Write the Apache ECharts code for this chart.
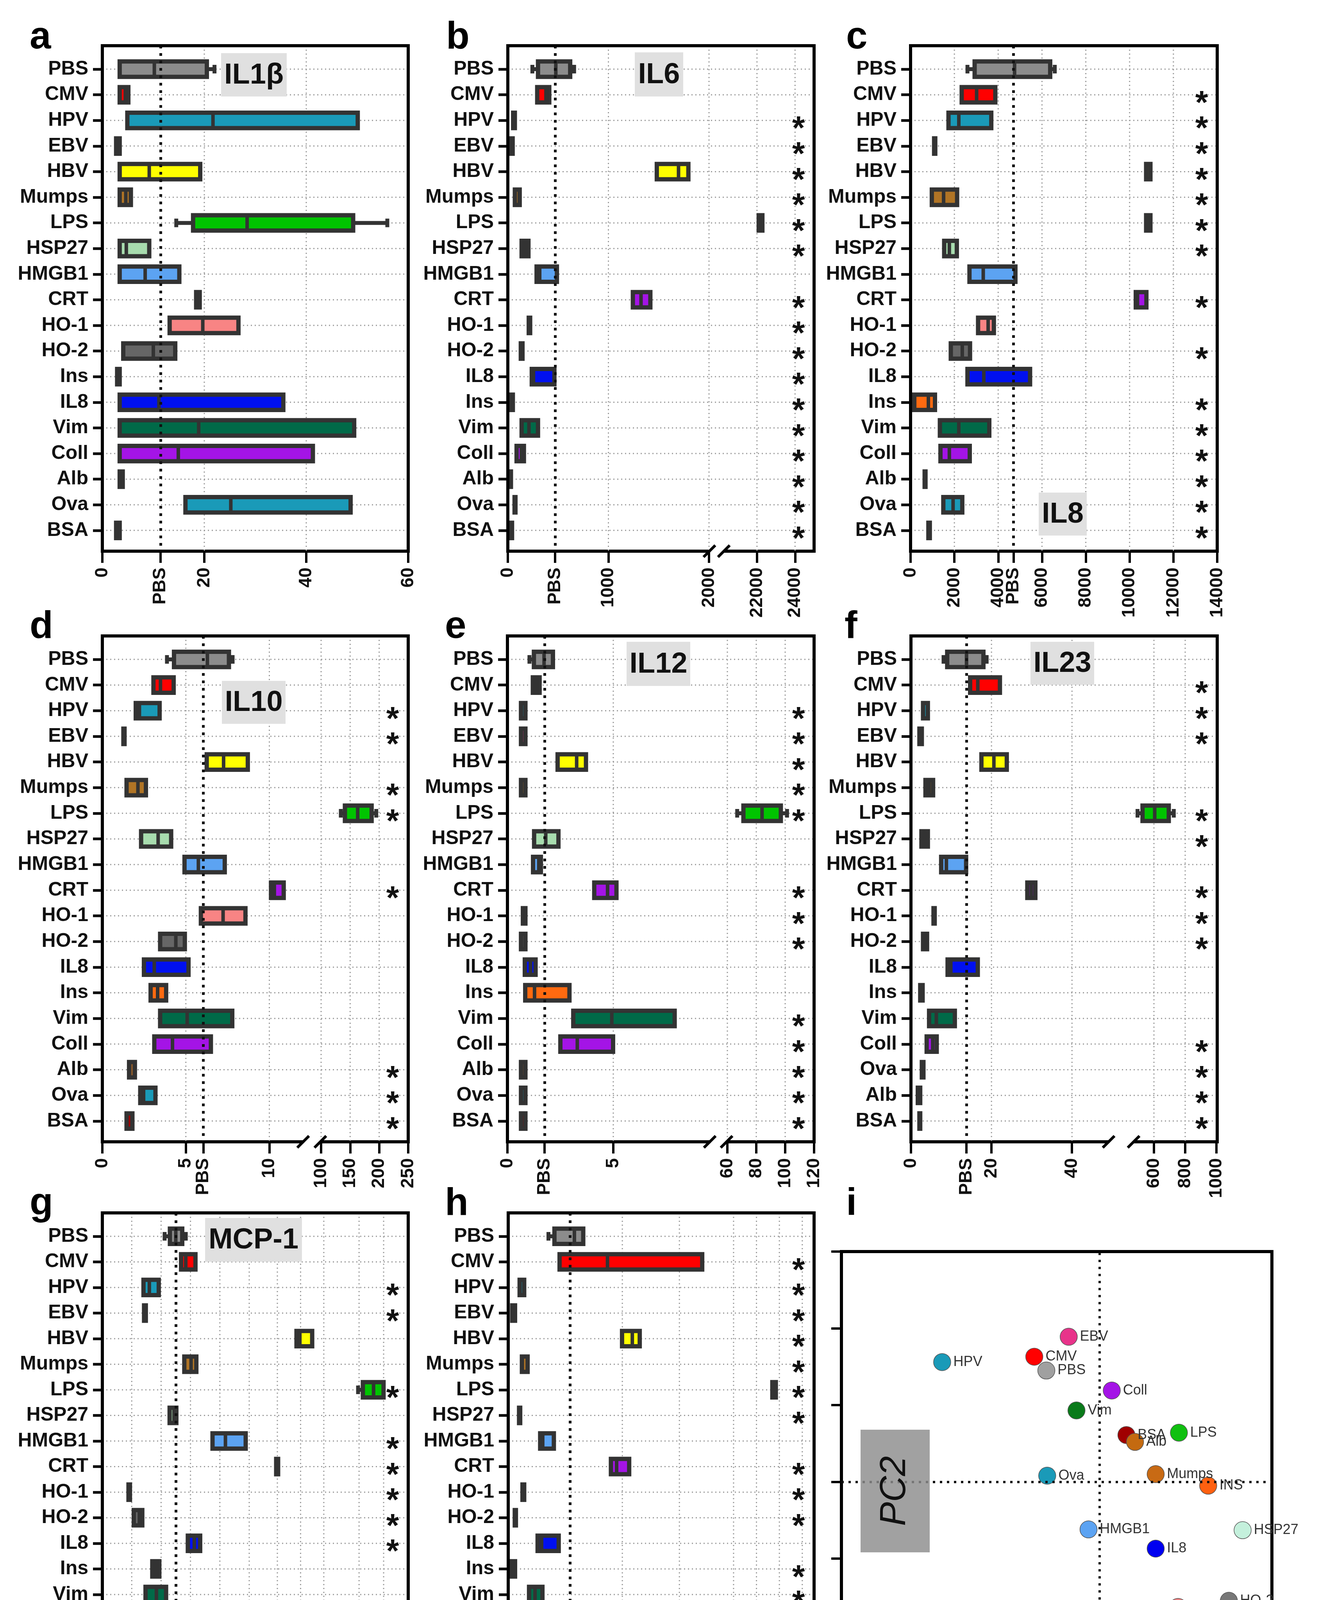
<!DOCTYPE html>
<html>
<head>
<meta charset="utf-8">
<title>Cytokine release box plots and PCA</title>
<script src="https://cdn.jsdelivr.net/npm/echarts@6.0.0/dist/echarts.min.js"></script>
<style>
html, body { margin: 0; padding: 0; background: #fff; }
#chart { width: 3374px; height: 4620px; }
</style>
</head>
<body>
<div id="chart"></div>
<script>
// categories (top to bottom)
var catsA = ['PBS', 'CMV', 'HPV', 'EBV', 'HBV', 'Mumps', 'LPS', 'HSP27', 'HMGB1', 'CRT', 'HO-1', 'HO-2', 'Ins', 'IL8', 'Vim', 'Coll', 'Alb', 'Ova', 'BSA'];
var catsB = ['PBS', 'CMV', 'HPV', 'EBV', 'HBV', 'Mumps', 'LPS', 'HSP27', 'HMGB1', 'CRT', 'HO-1', 'HO-2', 'IL8', 'Ins', 'Vim', 'Coll', 'Alb', 'Ova', 'BSA'];
var catsF = ['PBS', 'CMV', 'HPV', 'EBV', 'HBV', 'Mumps', 'LPS', 'HSP27', 'HMGB1', 'CRT', 'HO-1', 'HO-2', 'IL8', 'Ins', 'Vim', 'Coll', 'Ova', 'Alb', 'BSA'];

// boxes: [min, q1, median, q3, max]
var il1b = [[3.4, 3.4, 10.2, 20.5, 22.0], [3.4, 3.4, 4.5, 5.1, 5.1], [4.9, 4.9, 21.7, 50.1, 50.1], [2.7, 2.7, 3.0, 3.4, 3.4],
  [3.4, 3.4, 9.2, 19.2, 19.2], [3.4, 3.4, 4.6, 5.6, 5.6], [14.5, 17.8, 28.4, 49.2, 55.9], [3.4, 3.4, 4.7, 9.2, 9.2],
  [3.4, 3.4, 8.4, 15.1, 15.1], [18.4, 18.4, 18.8, 19.1, 19.1], [13.2, 13.2, 19.7, 26.7, 26.7], [4.1, 4.1, 10.0, 14.3, 14.3],
  [2.9, 2.9, 3.2, 3.4, 3.4], [3.4, 3.4, 11.1, 35.5, 35.5], [3.4, 3.4, 18.9, 49.4, 49.4], [3.4, 3.4, 14.9, 41.3, 41.3],
  [3.4, 3.4, 3.7, 4.0, 4.0], [16.3, 16.3, 25.2, 48.7, 48.7], [2.7, 2.7, 3.0, 3.4, 3.4]];
var il6 = [[244, 300, 477, 620, 659], [292, 292, 379, 412, 412], [53, 53, 61, 70, 70], [17, 17, 32, 48, 48],
  [1481, 1481, 1697, 1795, 1795], [70, 70, 94, 118, 118], [22090, 22090, 22190, 22284, 22284], [137, 137, 171, 205, 205],
  [286, 286, 317, 488, 488], [1243, 1243, 1324, 1417, 1417], [208, 208, 215, 222, 222], [129, 129, 137, 146, 146],
  [238, 238, 255, 463, 463], [17, 17, 33, 50, 50], [137, 137, 210, 300, 300], [87, 87, 135, 160, 160],
  [17, 17, 24, 31, 31], [67, 67, 71, 76, 76], [17, 17, 30, 42, 42]];
var il8 = [[2597, 2925, 4748, 6374, 6584], [2334, 2334, 3016, 3869, 3869], [1731, 1731, 2203, 3685, 3685], [1075, 1075, 1100, 1128, 1128],
  [10754, 10754, 10850, 10951, 10951], [970, 970, 1508, 2125, 2125], [10754, 10754, 10850, 10951, 10951], [1534, 1534, 1770, 2112, 2112],
  [2689, 2689, 3318, 4787, 4787], [10282, 10282, 10360, 10767, 10767], [3082, 3082, 3541, 3803, 3803], [1836, 1836, 2361, 2715, 2715],
  [2597, 2597, 3344, 5456, 5456], [170, 170, 813, 1115, 1115], [1338, 1338, 2203, 3594, 3594], [1364, 1364, 1770, 2702, 2702],
  [643, 643, 660, 682, 682], [1495, 1495, 1941, 2361, 2361], [813, 813, 845, 879, 879]];
var il10 = [[3.87, 4.29, 6.29, 7.58, 7.8], [3.06, 3.06, 3.48, 4.27, 4.27], [2.0, 2.0, 2.22, 3.43, 3.43], [1.26, 1.26, 1.3, 1.33, 1.33],
  [6.25, 6.25, 7.26, 8.71, 8.71], [1.45, 1.45, 2.13, 2.61, 2.61], [134, 141, 163, 187, 195], [2.32, 2.32, 3.34, 4.12, 4.12],
  [4.92, 4.92, 5.75, 7.33, 7.33], [10.1, 10.1, 10.3, 10.86, 10.86], [5.9, 5.9, 7.23, 8.57, 8.57], [3.46, 3.46, 4.4, 4.94, 4.94],
  [2.49, 2.49, 3.11, 5.16, 5.16], [2.89, 2.89, 3.31, 3.82, 3.82], [3.46, 3.46, 5.08, 7.78, 7.78], [3.11, 3.11, 4.2, 6.5, 6.5],
  [1.6, 1.6, 1.78, 1.95, 1.95], [2.27, 2.27, 2.47, 3.18, 3.18], [1.45, 1.45, 1.62, 1.8, 1.8]];
var il12 = [[1.04, 1.25, 1.73, 2.15, 2.15], [1.2, 1.2, 1.36, 1.52, 1.52], [0.64, 0.64, 0.75, 0.85, 0.85], [0.64, 0.64, 0.75, 0.85, 0.85],
  [2.37, 2.37, 3.27, 3.71, 3.71], [0.64, 0.64, 0.75, 0.85, 0.85], [66.8, 71.1, 84, 97, 101.3], [1.26, 1.26, 1.81, 2.41, 2.41],
  [1.21, 1.21, 1.48, 1.58, 1.58], [4.1, 4.1, 4.73, 5.15, 5.15], [0.73, 0.73, 0.79, 0.85, 0.85], [0.64, 0.64, 0.75, 0.85, 0.85],
  [0.82, 0.82, 1.09, 1.33, 1.33], [0.84, 0.84, 1.28, 2.93, 2.93], [3.11, 3.11, 4.93, 7.9, 7.9], [2.5, 2.5, 3.3, 4.99, 4.99],
  [0.64, 0.64, 0.75, 0.85, 0.85], [0.64, 0.64, 0.75, 0.85, 0.85], [0.64, 0.64, 0.75, 0.85, 0.85]];
var il23 = [[8.1, 9.0, 13.8, 18.0, 18.8], [14.7, 14.7, 16.6, 22.1, 22.1], [3.0, 3.0, 3.6, 4.2, 4.2], [2.1, 2.1, 2.4, 2.7, 2.7],
  [17.5, 17.5, 20.6, 23.8, 23.8], [3.6, 3.6, 4.5, 5.5, 5.5], [495, 527, 605, 695, 727], [2.6, 2.6, 3.3, 4.2, 4.2],
  [7.5, 7.5, 8.8, 13.7, 13.7], [28.9, 28.9, 29.9, 30.9, 30.9], [5.6, 5.6, 5.75, 5.9, 5.9], [3.0, 3.0, 3.5, 4.0, 4.0],
  [9.1, 9.1, 9.9, 16.6, 16.6], [2.3, 2.3, 2.6, 2.9, 2.9], [4.5, 4.5, 6.3, 10.9, 10.9], [3.9, 3.9, 5.4, 6.4, 6.4],
  [2.7, 2.7, 2.9, 3.1, 3.1], [1.7, 1.7, 2.0, 2.3, 2.3], [2.1, 2.1, 2.2, 2.3, 2.3]];
var mcp1 = [[212, 230, 250, 272, 284], [268, 268, 284, 317, 317], [140, 140, 160, 192, 192], [142, 142, 145, 148, 148],
  [1824, 1824, 1970, 2500, 2500], [279, 279, 302, 320, 320], [9600, 11550, 15900, 19970, 19970], [229, 229, 244, 252, 252],
  [375, 375, 419, 488, 488], [949, 949, 990, 1033, 1033], [89, 89, 91, 94, 94], [107, 107, 126, 136, 136],
  [291, 291, 313, 333, 333], [170, 170, 182, 194, 194], [147, 147, 184, 217, 217], [188, 188, 213, 237, 237],
  [23, 23, 28, 34, 34], [60, 60, 66, 73, 73], [31, 31, 37, 43, 43]];
var tnfa = [[141, 162, 232, 263, 263], [180, 180, 348, 680, 680], [40, 40, 48, 56, 56], [14, 14, 19, 24, 24],
  [399, 399, 435, 461, 461], [48, 48, 58, 68, 68], [11384, 11384, 11540, 11691, 11691], [38, 38, 40, 42, 42],
  [112, 112, 121, 160, 160], [360, 360, 380, 424, 424], [50, 50, 53, 56, 56], [23, 23, 25, 27, 27],
  [103, 103, 117, 177, 177], [12, 12, 18, 24, 24], [73, 73, 94, 120, 120], [45, 45, 62, 72, 72],
  [14, 14, 19, 24, 24], [75, 75, 84, 94, 94], [29, 29, 31, 33, 33]];

// significance stars (1 = *)
var starsB = [0, 0, 1, 1, 1, 1, 1, 1, 0, 1, 1, 1, 1, 1, 1, 1, 1, 1, 1];
var starsC = [0, 1, 1, 1, 1, 1, 1, 1, 0, 1, 0, 1, 0, 1, 1, 1, 1, 1, 1];
var starsD = [0, 0, 1, 1, 0, 1, 1, 0, 0, 1, 0, 0, 0, 0, 0, 0, 1, 1, 1];
var starsE = [0, 0, 1, 1, 1, 1, 1, 0, 0, 1, 1, 1, 0, 0, 1, 1, 1, 1, 1];
var starsF = [0, 1, 1, 1, 0, 0, 1, 1, 0, 1, 1, 1, 0, 0, 0, 1, 1, 1, 1];
var starsG = [0, 0, 1, 1, 0, 0, 1, 0, 1, 1, 1, 1, 1, 0, 0, 1, 1, 1, 1];
var starsH = [0, 1, 1, 1, 1, 1, 1, 1, 0, 1, 1, 1, 0, 1, 1, 1, 1, 1, 1];

// PBS reference lines, one per panel a..h
var pbsRef = [11.4, 470, 4695, 6.05, 1.75, 13.8, 250, 217];

// x tick labels
var ticksA = [0, 20, 40, 60];
var ticksB1 = [0, 1000, 2000], ticksB2 = [22000, 24000];
var ticksC = [0, 2000, 4000, 6000, 8000, 10000, 12000, 14000];
var ticksD1 = [0, 5, 10], ticksD2 = [100, 150, 200, 250];
var ticksE1 = [0, 5], ticksE2 = [60, 80, 100, 120];
var ticksF1 = [0, 20, 40], ticksF2 = [600, 800, 1000];
var ticksG1 = [0, 100, 200, 300, 400, 500], ticksG2 = [1000, 2000, 3000], ticksG3 = [10000, 20000, 30000];
var ticksH1 = [0, 400, 600], ticksH2 = [8000, 10000, 12000, 14000];

// PCA (panel i)
var pcaNames = ['EBV', 'CMV', 'HPV', 'PBS', 'Coll', 'Vim', 'BSA', 'Alb', 'LPS', 'Ova', 'Mumps', 'INS', 'HMGB1', 'HSP27', 'IL8', 'HO-1', 'HO-2', 'CRT', 'HBV'];
var pc1 = [-0.36, -0.76, -1.83, -0.62, 0.14, -0.27, 0.31, 0.41, 0.92, -0.61, 0.65, 1.26, -0.13, 1.66, 0.65, 0.91, 1.50, -2.21, -1.64];
var pc2 = [1.89, 1.63, 1.56, 1.45, 1.19, 0.93, 0.61, 0.52, 0.64, 0.08, 0.10, -0.05, -0.62, -0.63, -0.87, -1.63, -1.55, -2.62, -2.69];

// styles
var EDGE = '#333333';
var FONT = '"Liberation Sans", Arial, sans-serif';
var FILL = {
  'PBS': '#8c8c8c', 'CMV': '#ff0000', 'HPV': '#1a9ab8', 'EBV': '#e8338a', 'HBV': '#ffff00', 'Mumps': '#b07425',
  'LPS': '#00c400', 'HSP27': '#a8dcae', 'HMGB1': '#5ca3f2', 'CRT': '#a414e6', 'HO-1': '#f88484', 'HO-2': '#666666',
  'Ins': '#ff6a10', 'IL8': '#0010f0', 'Vim': '#006a48', 'Coll': '#a414e6', 'Alb': '#8b5a2b', 'Ova': '#1a9ab8', 'BSA': '#a00000'
};
var PCA_COLORS = {
  'EBV': '#e8338a', 'CMV': '#ff0000', 'HPV': '#1a9ab8', 'PBS': '#a0a0a0', 'Coll': '#a414e6', 'Vim': '#0a7a1a',
  'BSA': '#a00000', 'Alb': '#c46a10', 'LPS': '#10c010', 'Ova': '#1a9ab8', 'Mumps': '#c86a14', 'INS': '#ff6010',
  'HMGB1': '#5ca3f2', 'HSP27': '#c4f0dc', 'IL8': '#0000f0', 'HO-1': '#f08080', 'HO-2': '#777777', 'CRT': '#a414e6', 'HBV': '#ffff00'
};
var Y_MIN = -0.915, Y_MAX = 18.81;
var ROWS = [];
for (var r = 0; r < 19; r++) ROWS.push(r);

// layout of the eight box panels (pixels)
var panels = [
  { cats: catsA, boxes: il1b, stars: null, pbs: pbsRef[0], top: 117, bottom: 1411,
    segs: [{ l: 262, r: 1045, min: 0, max: 60, ticks: ticksA }],
    title: { text: 'IL1β', x1: 566, y1: 136, x2: 734, y2: 247 }, letter: { t: 'a', x: 76, y: 146 } },
  { cats: catsB, boxes: il6, stars: starsB, pbs: pbsRef[1], top: 117, bottom: 1411,
    segs: [{ l: 1300, r: 1815, min: 0, max: 2000, ticks: ticksB1 }, { l: 1855, r: 2084, min: 20300, max: 25000, ticks: ticksB2 }],
    title: { text: 'IL6', x1: 1625, y1: 134, x2: 1749, y2: 247 }, letter: { t: 'b', x: 1142, y: 146 } },
  { cats: catsB, boxes: il8, stars: starsC, pbs: pbsRef[2], top: 117, bottom: 1411,
    segs: [{ l: 2331, r: 3116, min: 0, max: 14000, ticks: ticksC }],
    title: { text: 'IL8', x1: 2659, y1: 1261, x2: 2782, y2: 1371 }, letter: { t: 'c', x: 2166, y: 146 } },
  { cats: catsB, boxes: il10, stars: starsD, pbs: pbsRef[3], top: 1628, bottom: 2923,
    segs: [{ l: 262, r: 775, min: 0, max: 12, ticks: ticksD1 }, { l: 822, r: 1045, min: 100, max: 250, ticks: ticksD2 }],
    title: { text: 'IL10', x1: 568, y1: 1743, x2: 731, y2: 1853 }, letter: { t: 'd', x: 76, y: 1655 } },
  { cats: catsB, boxes: il12, stars: starsE, pbs: pbsRef[4], top: 1628, bottom: 2923,
    segs: [{ l: 1299, r: 1816, min: 0, max: 9.54, ticks: ticksE1 }, { l: 1862, r: 2084, min: 60, max: 120, ticks: ticksE2 }],
    title: { text: 'IL12', x1: 1604, y1: 1643, x2: 1767, y2: 1756 }, letter: { t: 'e', x: 1139, y: 1655 } },
  { cats: catsF, boxes: il23, stars: starsF, pbs: pbsRef[5], top: 1628, bottom: 2923,
    segs: [{ l: 2332, r: 2837, min: 0, max: 49, ticks: ticksF1 }, { l: 2904, r: 3116, min: 475, max: 1005, ticks: ticksF2 }],
    title: { text: 'IL23', x1: 2638, y1: 1643, x2: 2801, y2: 1753 }, letter: { t: 'f', x: 2162, y: 1655 } },
  { cats: catsB, boxes: mcp1, stars: starsG, pbs: pbsRef[6], top: 3105, bottom: 4397,
    segs: [{ l: 262, r: 641, min: 0, max: 504, ticks: ticksG1 }, { l: 681, r: 861, min: 512, max: 3540, ticks: ticksG2 },
      { l: 894, r: 1045, min: 6000, max: 30000, ticks: ticksG3 }],
    title: { text: 'MCP-1', x1: 525, y1: 3118, x2: 773, y2: 3230 }, letter: { t: 'g', x: 76, y: 3132 } },
  { cats: catsB, boxes: tnfa, stars: starsH, pbs: pbsRef[7], top: 3105, bottom: 4397,
    segs: [{ l: 1301, r: 1802, min: 0, max: 686, ticks: ticksH1 }, { l: 1860, r: 2084, min: 7390, max: 15030, ticks: ticksH2 }],
    title: { text: 'TNFα', x1: 1578, y1: 4252, x2: 1795, y2: 4362 }, letter: { t: 'h', x: 1139, y: 3132 } }
];

function boxRenderer(cats) {
  return function (params, api) {
    var row = api.value(0);
    var lo = api.value(1), q1 = api.value(2), med = api.value(3), q3 = api.value(4), hi = api.value(5);
    var p1 = api.coord([q1, row]);
    var y = p1[1], x1 = p1[0];
    var x3 = api.coord([q3, row])[0];
    var xm = api.coord([med, row])[0];
    var h = api.size([0, 1])[1] * 0.6;
    var kids = [];
    if (hi > q3) {
      var xh = api.coord([hi, row])[0];
      kids.push({ type: 'line', shape: { x1: x3, y1: y, x2: xh, y2: y }, style: { stroke: EDGE, lineWidth: 10 } });
      kids.push({ type: 'rect', shape: { x: xh - 5, y: y - 11, width: 10, height: 22 }, style: { fill: EDGE } });
    }
    if (lo < q1) {
      var xl = api.coord([lo, row])[0];
      kids.push({ type: 'line', shape: { x1: xl, y1: y, x2: x1, y2: y }, style: { stroke: EDGE, lineWidth: 10 } });
      kids.push({ type: 'rect', shape: { x: xl - 5, y: y - 11, width: 10, height: 22 }, style: { fill: EDGE } });
    }
    kids.push({ type: 'rect', shape: { x: x1, y: y - h / 2, width: Math.max(x3 - x1, 1), height: h },
      style: { fill: FILL[cats[row]], stroke: EDGE, lineWidth: 11 } });
    if (x3 - x1 > 16) {
      kids.push({ type: 'line', shape: { x1: xm, y1: y - h / 2, x2: xm, y2: y + h / 2 }, style: { stroke: EDGE, lineWidth: 9 } });
    }
    return { type: 'group', children: kids };
  };
}

function rowLineRenderer(rightEdge) {
  return function (params, api) {
    var cs = params.coordSys;
    var y = api.coord([api.value(0), api.value(1)])[1];
    return { type: 'line', shape: { x1: cs.x, y1: y, x2: rightEdge, y2: y },
      style: { stroke: '#9a9a9a', lineWidth: 3, lineDash: [3, 7] } };
  };
}

function gridLineRenderer(params, api) {
  var cs = params.coordSys;
  var x = api.coord([api.value(0), api.value(1)])[0];
  return { type: 'line', shape: { x1: x, y1: cs.y, x2: x, y2: cs.y + cs.height },
    style: { stroke: '#9a9a9a', lineWidth: 3, lineDash: [3, 7] } };
}

function starRenderer(params, api) {
  var cs = params.coordSys;
  var y = api.coord([api.value(0), api.value(1)])[1];
  return { type: 'text', x: cs.x + cs.width - 40, y: y + 25,
    style: { text: '*', font: 'bold 84px ' + FONT, fill: '#111',
      textAlign: 'center', textVerticalAlign: 'middle', align: 'center', verticalAlign: 'middle' } };
}

function textEl(t, x, y, font, extra) {
  var el = { type: 'text', x: x, y: y, z: 20,
    style: { text: t, font: font, fill: '#111', textAlign: 'center', textVerticalAlign: 'middle', align: 'center', verticalAlign: 'middle' } };
  if (extra) for (var k in extra) el[k] = extra[k];
  return el;
}

var grids = [], xAxes = [], yAxes = [], series = [], graphics = [];

panels.forEach(function (p) {
  var frameL = p.segs[0].l, frameR = p.segs[p.segs.length - 1].r;
  p.segs.forEach(function (s, k) {
    var gi = grids.length;
    var first = k === 0, last = k === p.segs.length - 1;
    grids.push({ left: s.l, top: p.top, width: s.r - s.l, height: p.bottom - p.top, containLabel: false, outerBoundsMode: 'none' });
    var hasPbs = p.pbs >= s.min && p.pbs <= s.max;
    var labelVals = s.ticks.slice();
    if (hasPbs) labelVals.push(p.pbs);
    labelVals.sort(function (a, b) { return a - b; });
    var pbs = p.pbs;
    xAxes.push({
      type: 'value', gridIndex: gi, min: s.min, max: s.max,
      axisLine: { show: true, onZero: false, lineStyle: { color: '#000', width: 8 } },
      axisTick: { show: true, customValues: labelVals, length: 30, lineStyle: { color: '#000', width: 6 } },
      axisLabel: { show: true, customValues: labelVals, rotate: 90, margin: 42, fontSize: 46, fontWeight: 'bold',
        fontFamily: FONT, color: '#111', hideOverlap: false,
        formatter: function (v) { return Math.abs(v - pbs) < 1e-9 ? 'PBS' : String(v); } },
      splitLine: { show: false }
    });
    var cats = p.cats;
    yAxes.push({
      type: 'value', gridIndex: gi, inverse: true, min: Y_MIN, max: Y_MAX,
      axisLine: { show: false }, splitLine: { show: false },
      axisTick: { show: first, customValues: ROWS, length: 24, lineStyle: { color: '#111', width: 7 } },
      axisLabel: { show: first, customValues: ROWS, margin: 36, fontSize: 50, fontWeight: 'bold', fontFamily: FONT,
        color: '#111', hideOverlap: false, formatter: function (v) { return cats[Math.round(v)]; } }
    });
    if (first) {
      series.push({ type: 'custom', xAxisIndex: gi, yAxisIndex: gi, z: 1, silent: true,
        data: ROWS.map(function (i) { return [s.min, i]; }), encode: { x: 0, y: 1 }, renderItem: rowLineRenderer(frameR) });
    }
    series.push({ type: 'custom', xAxisIndex: gi, yAxisIndex: gi, z: 1, silent: true,
      data: s.ticks.map(function (v) { return [v, 0]; }), encode: { x: 0, y: 1 }, renderItem: gridLineRenderer });
    var items = p.boxes.map(function (b, i) { return [i, b[0], b[1], b[2], b[3], b[4]]; })
      .filter(function (d) { return d[3] >= s.min && d[3] <= s.max; });
    var boxSeries = { type: 'custom', xAxisIndex: gi, yAxisIndex: gi, z: 3, silent: true,
      data: items, encode: { x: [1, 2, 3, 4, 5], y: 0 }, renderItem: boxRenderer(p.cats) };
    if (hasPbs) {
      boxSeries.markLine = { silent: true, symbol: ['none', 'none'], label: { show: false },
        lineStyle: { color: '#111', width: 7, type: [7, 12] }, data: [{ xAxis: p.pbs }] };
    }
    series.push(boxSeries);
    if (last && p.stars) {
      var starData = [];
      p.stars.forEach(function (f, i) { if (f) starData.push([s.max, i]); });
      series.push({ type: 'custom', xAxisIndex: gi, yAxisIndex: gi, z: 4, silent: true,
        data: starData, encode: { x: 0, y: 1 }, renderItem: starRenderer });
    }
  });
  // frame (left, top, right)
  graphics.push({ type: 'polyline', z: 10, silent: true,
    shape: { points: [[frameL, p.bottom], [frameL, p.top], [frameR, p.top], [frameR, p.bottom]] },
    style: { stroke: '#000', lineWidth: 8, fill: null, lineCap: 'square', lineJoin: 'miter' } });
  // axis break marks
  for (var k = 0; k < p.segs.length - 1; k++) {
    [p.segs[k].r + 1, p.segs[k + 1].l - 2].forEach(function (cx) {
      graphics.push({ type: 'line', z: 11, silent: true,
        shape: { x1: cx - 15, y1: p.bottom + 15, x2: cx + 15, y2: p.bottom - 15 },
        style: { stroke: '#000', lineWidth: 7 } });
    });
  }
  // title box
  var t = p.title;
  graphics.push({ type: 'rect', z: 12, silent: true, shape: { x: t.x1, y: t.y1, width: t.x2 - t.x1, height: t.y2 - t.y1 },
    style: { fill: '#e0e0e0' } });
  graphics.push(textEl(t.text, (t.x1 + t.x2) / 2, (t.y1 + t.y2) / 2 + 2, 'bold 74px ' + FONT));
  graphics.push(textEl(p.letter.t, p.letter.x, p.letter.y, 'bold 98px ' + FONT,
    { style: { text: p.letter.t, font: 'bold 98px ' + FONT, fill: '#000', textAlign: 'left', align: 'left',
      textVerticalAlign: 'bottom', verticalAlign: 'bottom' } }));
});

// panel i : PCA
var gi = grids.length;
grids.push({ left: 2154, top: 3204, width: 1102, height: 1179, show: true, borderColor: '#000', borderWidth: 8,
  backgroundColor: 'transparent', containLabel: false, outerBoundsMode: 'none' });
xAxes.push({ type: 'value', gridIndex: gi, min: -3, max: 2, interval: 1,
  axisLine: { show: true, onZero: false, lineStyle: { color: '#000', width: 8 } },
  axisTick: { show: true, length: 26, lineStyle: { color: '#000', width: 6 } },
  axisLabel: { show: true, margin: 44, fontSize: 46, fontWeight: 'bold', fontFamily: FONT, color: '#111' },
  splitLine: { show: false } });
yAxes.push({ type: 'value', gridIndex: gi, min: -3, max: 3, interval: 1,
  axisLine: { show: true, onZero: false, lineStyle: { color: '#000', width: 8 } },
  axisTick: { show: true, length: 26, lineStyle: { color: '#000', width: 6 } },
  axisLabel: { show: false }, splitLine: { show: false } });
series.push({
  type: 'scatter', xAxisIndex: gi, yAxisIndex: gi, z: 3, symbolSize: 44, silent: true,
  data: pcaNames.map(function (n, i) {
    return { name: n, value: [pc1[i], pc2[i]], itemStyle: { color: PCA_COLORS[n] } };
  }),
  itemStyle: { borderColor: '#555', borderWidth: 1.5, opacity: 1 },
  label: { show: true, position: 'right', distance: 6, formatter: '{b}', fontSize: 36, fontFamily: FONT, color: '#333' },
  markLine: { silent: true, symbol: ['none', 'none'], label: { show: false },
    lineStyle: { color: '#111', width: 6, type: [6, 12] }, data: [{ xAxis: 0 }, { yAxis: 0 }] }
});
graphics.push({ type: 'rect', z: 30, silent: true, shape: { x: 2203, y: 3660, width: 177, height: 314 },
  style: { fill: 'rgba(140,140,140,0.82)' } });
graphics.push(textEl('PC2', 2291, 3817, 'italic 92px ' + FONT, { rotation: Math.PI / 2, z: 31 }));
graphics.push({ type: 'rect', z: 30, silent: true, shape: { x: 2655, y: 4148, width: 315, height: 177 },
  style: { fill: 'rgba(140,140,140,0.82)' } });
graphics.push(textEl('PC1', 2812, 4240, 'italic 92px ' + FONT, { z: 31 }));
graphics.push(textEl('i', 2166, 3132, 'bold 98px ' + FONT,
  { style: { text: 'i', font: 'bold 98px ' + FONT, fill: '#000', textAlign: 'left', align: 'left',
    textVerticalAlign: 'bottom', verticalAlign: 'bottom' } }));

var chart = echarts.init(document.getElementById('chart'), null, { renderer: 'canvas' });
chart.setOption({
  backgroundColor: '#ffffff',
  animation: false,
  textStyle: { fontFamily: FONT },
  tooltip: { show: false },
  grid: grids,
  xAxis: xAxes,
  yAxis: yAxes,
  series: series,
  graphic: { elements: graphics }
});
</script>
</body>
</html>
